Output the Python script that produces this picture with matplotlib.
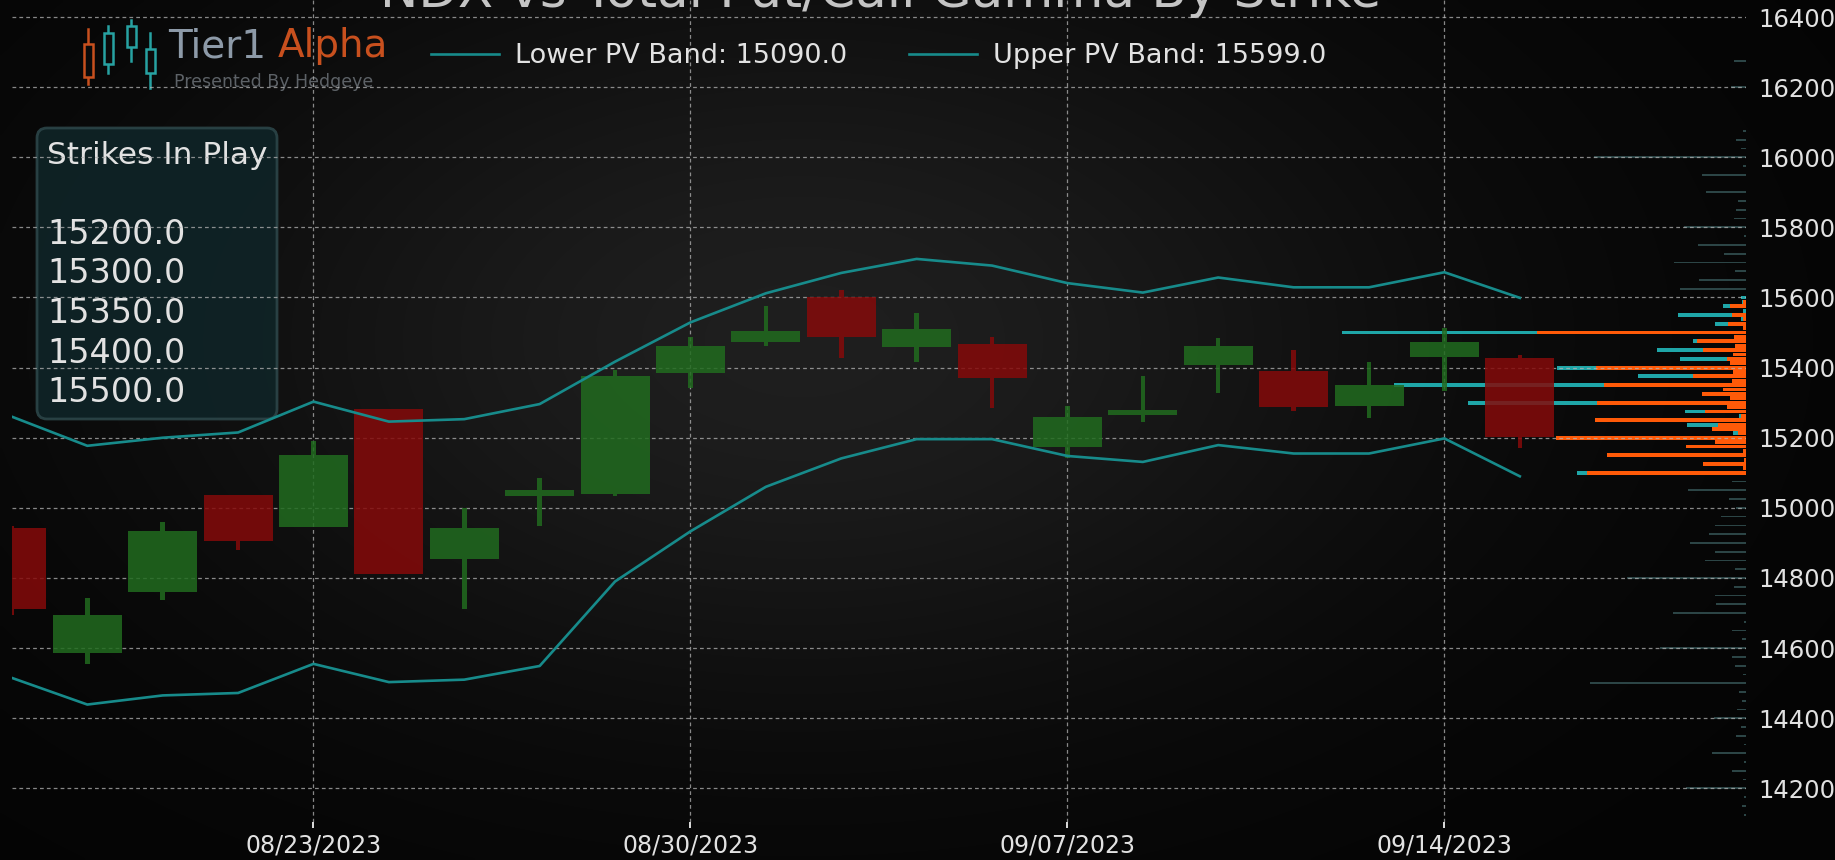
'''
NDX daily candles with the PV bands and total put / call gamma by strike
(gamma bars hang off the right edge of the price axis).
'''

import numpy as np
import matplotlib
matplotlib.use('Agg')
import matplotlib.pyplot as plt
from matplotlib.patches import FancyBboxPatch, Rectangle
from matplotlib.lines import Line2D

W, H = 1835, 860

# ---- price data -------------------------------------------------------
dates = ['08/17/2023', '08/18/2023', '08/21/2023', '08/22/2023', '08/23/2023',
         '08/24/2023', '08/25/2023', '08/28/2023', '08/29/2023', '08/30/2023',
         '08/31/2023', '09/01/2023', '09/05/2023', '09/06/2023', '09/07/2023',
         '09/08/2023', '09/11/2023', '09/12/2023', '09/13/2023', '09/14/2023',
         '09/15/2023']
opens = [14943, 14586, 14760, 15036, 14946, 15281, 14855, 15033, 15039, 15384,
         15474, 15601, 15458, 15468, 15174, 15264, 15407, 15390, 15290, 15431,
         15427]
highs = [14948, 14744, 14959, 15038, 15190, 15283, 15000, 15086, 15393, 15487,
         15577, 15622, 15557, 15487, 15290, 15377, 15484, 15450, 15415, 15512,
         15437]
lows = [14694, 14555, 14736, 14881, 14944, 14810, 14712, 14948, 15033, 15341,
        15463, 15427, 15417, 15286, 15141, 15244, 15327, 15277, 15255, 15334,
        15170]
closes = [14712, 14695, 14935, 14905, 15150, 14812, 14943, 15052, 15376, 15463,
          15503, 15488, 15510, 15371, 15260, 15279, 15463, 15289, 15349, 15472,
          15203]
upper_band = [15260, 15177, 15200, 15215, 15303, 15246, 15253, 15296, 15417,
              15529, 15612, 15670, 15710, 15691, 15641, 15614, 15657, 15629,
              15629, 15672, 15599]
lower_band = [14515, 14439, 14465, 14472, 14555, 14503, 14510, 14549, 14790,
              14933, 15060, 15141, 15196, 15196, 15148, 15131, 15179, 15155,
              15155, 15198, 15090]
label_dates = ['08/23/2023', '08/30/2023', '09/07/2023', '09/14/2023']
price_ticks = [14200, 14400, 14600, 14800, 15000, 15200, 15400, 15600,
               15800, 16000, 16200, 16400]

# ---- gamma by strike (relative units) ---------------------------------
strikes = [15600, 15587.5, 15575, 15562.5, 15550, 15537.5, 15525, 15512.5,
           15500, 15487.5, 15475, 15462.5, 15450, 15437.5, 15425, 15412.5,
           15400, 15387.5, 15375, 15362.5, 15350, 15337.5, 15325, 15312.5,
           15300, 15287.5, 15275, 15262.5, 15250, 15237.5, 15225, 15212.5,
           15200, 15187.5, 15175, 15162.5, 15150, 15137.5, 15125, 15112.5,
           15100]
call_gamma = [5, 4, 23, 3, 68, 5, 31, 3,
              404, 6, 53, 4, 89, 4, 66, 5,
              189, 4, 108, 4, 352, 6, 5, 5,
              278, 4, 61, 7, 10, 59, 6, 13,
              8, 3, 3, 3, 3, 2, 3, 2,
              169]
put_gamma = [0, 3, 16, 0, 14, 3, 18, 3,
             209, 12, 49, 11, 43, 13, 19, 16,
             150, 13, 53, 14, 142, 23, 44, 16,
             149, 19, 41, 5, 151, 28, 34, 8,
             190, 31, 60, 3, 139, 2, 43, 3,
             159]
far_strikes = [16275, 16200, 16075, 16050, 16025, 16000, 15975, 15950, 15900,
               15875, 15850, 15825, 15800, 15775, 15750, 15725, 15700, 15675,
               15650, 15625,
               15075, 15050, 15025, 15000, 14975, 14950, 14925, 14900, 14875,
               14850, 14825, 14800, 14775, 14750, 14725, 14700, 14675, 14650,
               14625, 14600, 14575, 14550, 14525, 14500, 14475, 14450, 14425,
               14400, 14375, 14350, 14325, 14300, 14275, 14250, 14225, 14200,
               14175, 14150, 14125, 14100]
far_gamma = [12, 15, 3, 10, 5, 152, 3, 44, 40,
             8, 10, 12, 62, 2, 48, 22, 72, 11,
             47, 66,
             14, 58, 17, 10, 25, 31, 37, 56, 31,
             41, 11, 119, 12, 31, 30, 73, 2, 14,
             4, 86, 14, 11, 3, 156, 7, 4, 9,
             32, 5, 10, 2, 34, 2, 14, 3, 60,
             2, 4, 2, 24]
strikes_in_play = [15200.0, 15300.0, 15350.0, 15400.0, 15500.0]

GREEN = '#216b1f'
RED = '#850a0a'
TEAL = '#178b8b'
CALL = '#1fa6a8'
PUT = '#ff5a08'
FAINT = '#2c4546'
GRID = '#b4b4b4'
TXT = '#e2e2e2'


def px(x, y):
    'figure pixel (y measured down from the top) -> figure fraction'
    return x / W, 1 - y / H


def plot_gamma_chart():
    fig = plt.figure(figsize=(W / 100, H / 100), dpi=100, facecolor='black')

    # background: dark board, a little lighter in the middle
    bg = fig.add_axes([0, 0, 1, 1], zorder=-10)
    gx, gy = np.meshgrid(np.linspace(0, W, 460), np.linspace(0, H, 220))
    shade = 0.015 + 0.105 * np.exp(-((gx - 800) / 640) ** 2
                                   - ((gy - 340) / 380) ** 2)
    bg.imshow(np.dstack([shade] * 3), extent=(0, W, H, 0), aspect='auto',
              interpolation='bilinear')
    bg.set_xlim(0, W)
    bg.set_ylim(H, 0)
    bg.axis('off')

    # main price axes, gamma axes underneath it sharing the price scale
    x0, x1, ybot = 11.9, 1746.0, 822.0
    ax = fig.add_axes([x0 / W, (H - ybot) / H, (x1 - x0) / W, ybot / H])
    axg = ax.twiny()
    ax.set_zorder(2)
    axg.set_zorder(1)
    ax.patch.set_visible(False)
    axg.patch.set_visible(False)

    axg.barh(far_strikes, far_gamma, height=5, color=FAINT, zorder=1)
    axg.barh(strikes, call_gamma, height=11, color=CALL, zorder=2)
    axg.barh(strikes, put_gamma, height=11, color=PUT, zorder=3)
    axg.set_xlim(x1 - x0, 0)
    axg.set_xticks([])
    for s in axg.spines.values():
        s.set_visible(False)

    # candles
    x = np.arange(len(dates))
    o, h, l, c = (np.array(v, dtype=float) for v in (opens, highs, lows, closes))
    cols = np.where(c >= o, GREEN, RED)
    top = np.maximum(o, c)
    bot = np.minimum(o, c)
    ax.bar(x, top - bot, bottom=bot, width=0.915, color=cols, alpha=0.85,
           zorder=3)
    ax.bar(x, h - top, bottom=top, width=0.06, color=cols, alpha=0.85, zorder=3)
    ax.bar(x, bot - l, bottom=l, width=0.06, color=cols, alpha=0.85, zorder=3)

    lo_line, = ax.plot(x, lower_band, color=TEAL, lw=1.9, zorder=4,
                       label='Lower PV Band: %.1f' % lower_band[-1])
    up_line, = ax.plot(x, upper_band, color=TEAL, lw=1.9, zorder=4,
                       label='Upper PV Band: %.1f' % upper_band[-1])

    ax.set_xlim(0, 23)
    ax.set_ylim(14104, 16448.5)
    ax.set_xticks([dates.index(d) for d in label_dates])
    ax.set_xticklabels(label_dates)
    ax.set_yticks(price_ticks)
    ax.yaxis.tick_right()
    ax.tick_params(axis='y', length=0, pad=9, labelsize=17.5, labelcolor=TXT)
    ax.tick_params(axis='x', length=4, width=1.4, color='#dddddd', pad=4,
                   labelsize=17, labelcolor=TXT)
    for s in ax.spines.values():
        s.set_visible(False)
    ax.grid(True, color=GRID, linestyle=(0, (3, 2.5)), linewidth=0.9,
            alpha=0.75, zorder=2)
    ax.set_axisbelow(False)

    # title, cut off by the top edge as in the original export
    tx, ty = px(881, 7)
    fig.text(tx, ty, 'NDX vs Total Put/Call Gamma By Strike', ha='center',
             va='baseline', fontsize=37, color='#c4c4c4')

    # logo
    icon = [(88, 29, 84, 44, 77, '#c8501e'), (108, 26, 73, 33, 64, '#27a2a2'),
            (131, 20, 61, 26, 47, '#27a2a2'), (150, 33, 88, 49, 73, '#27a2a2')]
    for xc, w0, w1, b0, b1, col in icon:
        bg.add_line(Line2D([xc, xc], [w0, w1], color=col, lw=1.8))
        bg.add_patch(Rectangle((xc - 4.5, b0), 9, b1 - b0, fill=True,
                               facecolor='#0b0b0b', edgecolor=col, lw=1.8,
                               zorder=3))
    t1 = bg.text(168, 46, 'Tier1', fontsize=28, color='#8d9aa8',
                 va='center', ha='left')
    bg.annotate('Alpha', xy=(1, 0.5), xycoords=t1, xytext=(8, 0),
                textcoords='offset points', va='center', ha='left',
                fontsize=28, color='#c8501e')
    bg.text(174, 82, 'Presented By Hedgeye', fontsize=12.5, color='#5d6267',
            va='center', ha='left')

    fig.legend(handles=[lo_line, up_line], loc='center left',
               bbox_to_anchor=px(431, 56), ncol=2, frameon=False,
               fontsize=19.5, handlelength=2.5, handletextpad=0.6,
               columnspacing=2.3, borderpad=0, borderaxespad=0,
               labelcolor=TXT)

    # strikes in play panel
    bg.add_patch(FancyBboxPatch((37, 128), 240, 291,
                                boxstyle='round,pad=0,rounding_size=10',
                                facecolor='#0f2427', edgecolor='#2c4548',
                                lw=2, alpha=0.9, zorder=2))
    bg.text(47, 155, 'Strikes In Play', fontsize=22.5, color=TXT,
            va='center', ha='left', zorder=3)
    for k, s in enumerate(strikes_in_play):
        bg.text(47, 234 + 39.7 * k, '%.1f' % s, fontsize=24, color=TXT,
                va='center', ha='left', zorder=3)

    return fig


def main():
    fig = plot_gamma_chart()
    fig.savefig('out.png', dpi=100, facecolor=fig.get_facecolor())


if __name__ == '__main__':
    main()
